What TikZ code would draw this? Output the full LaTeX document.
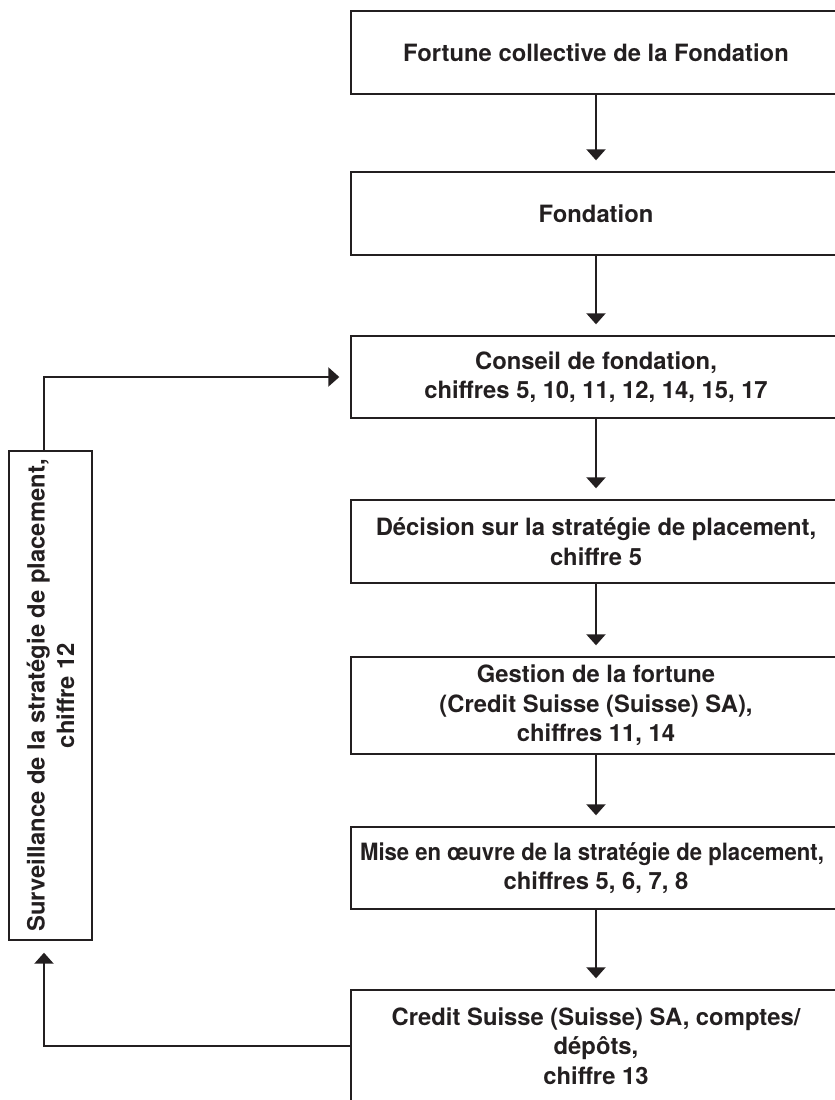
\documentclass[tikz,border=0pt]{standalone}
\usepackage{fontspec}
\setmainfont{TeX Gyre Heros}
\usepackage{tikz}
\usetikzlibrary{arrows.meta, positioning}
\definecolor{darkink}{RGB}{35,31,32}
\tikzset{
	box/.style={draw=darkink, line width=1.4pt, text=darkink, align=center, inner xsep=2pt, inner ysep=0pt, minimum width=490pt, font=\bfseries\fontsize{23.8}{29.5}\selectfont},
	flow/.style={draw=darkink, line width=2.2pt, -{Triangle[width=19pt,length=11pt]}, shorten >=11pt}
}
\begin{document}
\begin{tikzpicture}[x=1pt, y=-1pt]
		\useasboundingbox (0,0) rectangle (835,1100);
		\clip (0,0) rectangle (835,1100);
		\node [box, minimum height=83pt] (fortune) at (596,52.5) {Fortune collective de la Fondation};
		\node [box, minimum height=83pt] (fondation) at (596,213.5) {Fondation};
		\node [box, minimum height=82pt] (conseil) at (596,377) {Conseil de fondation,\\chiffres 5, 10, 11, 12, 14, 15, 17};
		\node [box, minimum height=83pt] (decision) at (596,541.5) {Décision sur la stratégie de placement,\\chiffre 5};
		\node [box, minimum height=97pt] (gestion) at (596,705.5) {Gestion de la fortune\\(Credit Suisse (Suisse) SA),\\chiffres 11, 14};
		\node [box, minimum height=82pt] (mise) at (596,868) {\hspace*{-8pt}\scalebox{0.93}[1]{Mise en œuvre de la stratégie de placement,}\\chiffres 5, 6, 7, 8};
		\node [box, minimum height=112pt] (credit) at (596,1046) {Credit Suisse (Suisse) SA, comptes/\\dépôts,\\chiffre 13};
		\node [box, rotate=90, minimum width=489pt, minimum height=83pt] (surv) at (50.5,695.5) {Surveillance de la stratégie de placement,\\chiffre 12};
		\coordinate (loop) at (44,0);
		\foreach \a/\b in {fortune/fondation, fondation/conseil, conseil/decision, decision/gestion, gestion/mise, mise/credit}{
			\draw [flow] (\a.south) -- (\b.north);
		}
		\draw [flow] (surv.east -| loop) |- (conseil.west);
		\draw [flow, shorten >=12pt] (credit.west) -| (surv.west -| loop);
	\end{tikzpicture}
\end{document}
